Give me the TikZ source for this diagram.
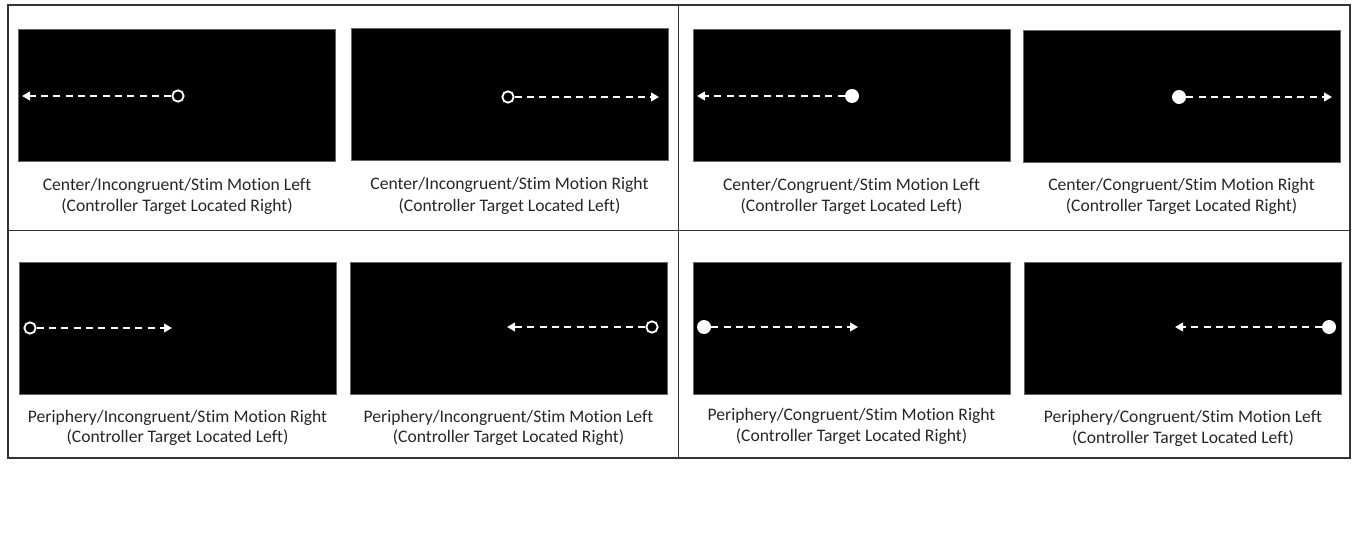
\documentclass[tikz,border=0pt]{standalone}
\usepackage{fontspec}
\setmainfont[Ligatures=NoCommon]{Carlito}
\usetikzlibrary{arrows.meta}
\begin{document}
\begin{tikzpicture}[x=0.75pt,y=-0.75pt,
  frame/.style={draw=black!80, line width=1.1pt},
  screen/.style={rectangle, fill=black, draw=black!60, line width=0.4pt,
    minimum width=237.75pt, minimum height=99pt, inner sep=0pt},
  opendot/.style={circle, draw=white, line width=1.4pt, fill=black,
    minimum size=8.5pt, inner sep=0pt},
  filldot/.style={circle, fill=white, minimum size=10.5pt, inner sep=0pt},
  motion/.style={draw=white, line width=1.5pt, dash pattern=on 5.25pt off 4pt,
    -{Triangle[length=6pt,width=6.5pt]}},
  caption/.style={anchor=base, text=black!85, inner sep=0pt,
    font=\fontsize{13.2}{16}\selectfont}
]
\useasboundingbox (0,0) rectangle (1355,538);

% outer frame and quadrant dividers
\draw[frame] (8,5) rectangle (1350,458);
\draw[frame] (678.5,5) -- (678.5,458);
\draw[frame] (8,230.5) -- (1350,230.5);

% ---- Center / Incongruent ----
\node[screen] (s1) at (177,95) {};
\node[opendot] (d1) at (178,96) {};
\coordinate (t1) at (22,96);
\draw[motion] (d1) -- (t1);
\node[caption] (c1a) at (177,191) {Center/Incongruent/Stim Motion Left};
\node[caption] (c1b) at (177,212) {(Controller Target Located Right)};

\node[screen] (s2) at (509.5,94) {};
\node[opendot] (d2) at (508,97) {};
\coordinate (t2) at (659,97);
\draw[motion] (d2) -- (t2);
\node[caption] (c2a) at (509.5,190) {Center/Incongruent/Stim Motion Right};
\node[caption] (c2b) at (509.5,212) {(Controller Target Located Left)};

% ---- Center / Congruent ----
\node[screen] (s3) at (851.5,95.5) {};
\node[filldot] (d3) at (852,96) {};
\coordinate (t3) at (697,96);
\draw[motion] (d3) -- (t3);
\node[caption] (c3a) at (851.5,191) {Center/Congruent/Stim Motion Left};
\node[caption] (c3b) at (851.5,212) {(Controller Target Located Left)};

\node[screen] (s4) at (1181.5,96.5) {};
\node[filldot] (d4) at (1179,97) {};
\coordinate (t4) at (1332,97);
\draw[motion] (d4) -- (t4);
\node[caption] (c4a) at (1181.5,191) {Center/Congruent/Stim Motion Right};
\node[caption] (c4b) at (1181.5,212) {(Controller Target Located Right)};

% ---- Periphery / Incongruent ----
\node[screen] (s5) at (177.5,328) {};
\node[opendot] (d5) at (30,328) {};
\coordinate (t5) at (172,328);
\draw[motion] (d5) -- (t5);
\node[caption] (c5a) at (177.5,422) {Periphery/Incongruent/Stim Motion Right};
\node[caption] (c5b) at (177.5,442) {(Controller Target Located Left)};

\node[screen] (s6) at (508.5,328) {};
\node[opendot] (d6) at (652,327) {};
\coordinate (t6) at (507,327);
\draw[motion] (d6) -- (t6);
\node[caption] (c6a) at (508.5,422) {Periphery/Incongruent/Stim Motion Left};
\node[caption] (c6b) at (508.5,442) {(Controller Target Located Right)};

% ---- Periphery / Congruent ----
\node[screen] (s7) at (851.5,328) {};
\node[filldot] (d7) at (704,327) {};
\coordinate (t7) at (858,327);
\draw[motion] (d7) -- (t7);
\node[caption] (c7a) at (851.5,420) {Periphery/Congruent/Stim Motion Right};
\node[caption] (c7b) at (851.5,441) {(Controller Target Located Right)};

\node[screen] (s8) at (1183,328) {};
\node[filldot] (d8) at (1329,327) {};
\coordinate (t8) at (1175,327);
\draw[motion] (d8) -- (t8);
\node[caption] (c8a) at (1183,422) {Periphery/Congruent/Stim Motion Left};
\node[caption] (c8b) at (1183,443) {(Controller Target Located Left)};
\end{tikzpicture}
\end{document}
